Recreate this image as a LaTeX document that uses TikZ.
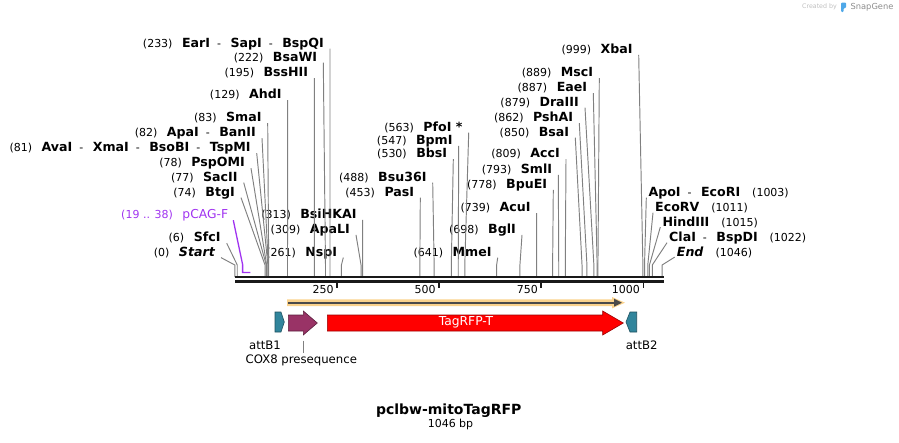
\documentclass[tikz,border=0pt]{standalone}
\usepackage{fontspec}
\setmainfont{DejaVu Sans}
\usetikzlibrary{arrows.meta, calc}
\definecolor{sitegray}{HTML}{808080}
\definecolor{primerviolet}{HTML}{A033F0}
\definecolor{attteal}{HTML}{31859C}
\definecolor{coxmaroon}{HTML}{993366}
\definecolor{orfband}{HTML}{FAD28C}
\definecolor{orfdark}{HTML}{4A4A4A}
\definecolor{snapblue}{HTML}{4FA8E8}

\newcommand{\enz}[1]{{\fontsize{12.6}{14}\selectfont\bfseries #1}}
\newcommand{\pos}[1]{{\fontsize{11}{13}\selectfont (#1)}}
\newcommand{\ensep}{\hspace{7pt}{\fontsize{11}{13}\selectfont -}\hspace{9.5pt}}
\newcommand{\cutL}[2]{\pgfmathsetmacro\sitex{234.8+0.4085*#2}%
  \coordinate (r#2) at (\sitex,277);%
  \draw[cutline] ([shift={(6,1.5)}]#1.base east) -- ([yshift=12pt]r#2) -- (r#2);}
\newcommand{\cutR}[2]{\pgfmathsetmacro\sitex{234.8+0.4085*#2}%
  \coordinate (r#2) at (\sitex,277);%
  \draw[cutline] ([shift={(-2,1)}]#1.base west) -- ([yshift=12pt]r#2) -- (r#2);}

\begin{document}
\begin{tikzpicture}[
    x=1pt, y=-1pt,
    lab/.style={inner sep=0pt, text=black},
    cutline/.style={draw=sitegray, line width=0.95pt},
    ticklabel/.style={inner sep=0pt, font=\fontsize{11}{13}\selectfont},
    featlabel/.style={inner sep=0pt, font=\fontsize{11.7}{14}\selectfont},
    feat/.style={line width=0.6pt}
  ]
  \useasboundingbox (0,0) rectangle (899,442);

  % watermark
  \node[inner sep=0pt, text=black!25, font=\fontsize{6.3}{8}\selectfont] (created) at (819.5,7) {Created by};
  \fill[snapblue, rounded corners=1pt] (841,2.5) -- (846,2.5) -- (846,8) -- (843.5,8) -- (843.5,12) -- (841,12) -- cycle;
  \node[inner sep=0pt, text=black!45, font=\fontsize{8.3}{10}\selectfont] (snapgene) at (872,7) {SnapGene};

  % sites left of the ruler
  \node[lab, anchor=base east] (n233) at (324,47.1) {\pos{233}\hspace{9.5pt}\enz{EarI}\ensep\enz{SapI}\ensep\enz{BspQI}};
  \node[lab, anchor=base east] (n222) at (317.3,61.1) {\pos{222}\hspace{9.5pt}\enz{BsaWI}};
  \node[lab, anchor=base east] (n195) at (308.3,76.7) {\pos{195}\hspace{9.5pt}\enz{BssHII}};
  \node[lab, anchor=base east] (n129) at (281.7,98.7) {\pos{129}\hspace{9.5pt}\enz{AhdI}};
  \node[lab, anchor=base east] (n83) at (261.7,121.7) {\pos{83}\hspace{9.5pt}\enz{SmaI}};
  \node[lab, anchor=base east] (n82) at (256,136.7) {\pos{82}\hspace{9.5pt}\enz{ApaI}\ensep\enz{BanII}};
  \node[lab, anchor=base east] (n81) at (250.7,151.7) {\pos{81}\hspace{9.5pt}\enz{AvaI}\ensep\enz{XmaI}\ensep\enz{BsoBI}\ensep\enz{TspMI}};
  \node[lab, anchor=base east] (n78) at (245,166.7) {\pos{78}\hspace{9.5pt}\enz{PspOMI}};
  \node[lab, anchor=base east] (n77) at (237.7,181.1) {\pos{77}\hspace{9.5pt}\enz{SacII}};
  \node[lab, anchor=base east] (n74) at (235,196.1) {\pos{74}\hspace{9.5pt}\enz{BtgI}};
  \node[lab, anchor=base east, text=primerviolet] (pcag) at (228.3,218.7) {\pos{19 .. 38}\hspace{9.5pt}{\fontsize{12.3}{14}\selectfont pCAG-F}};
  \node[lab, anchor=base east] (n6) at (220.7,241.7) {\pos{6}\hspace{9.5pt}\enz{SfcI}};
  \node[lab, anchor=base east] (n0) at (215,256.1) {\pos{0}\hspace{9.5pt}\enz{\itshape Start}};

  % sites in the middle
  \node[lab, anchor=base east] (n313) at (356.7,218.4) {\pos{313}\hspace{9.5pt}\enz{BsiHKAI}};
  \node[lab, anchor=base east] (n309) at (350,233.4) {\pos{309}\hspace{9.5pt}\enz{ApaLI}};
  \node[lab, anchor=base east] (n261) at (337.3,256.1) {\pos{261}\hspace{9.5pt}\enz{NspI}};
  \node[lab, anchor=base east] (n488) at (426.7,181.1) {\pos{488}\hspace{9.5pt}\enz{Bsu36I}};
  \node[lab, anchor=base east] (n453) at (414.3,196.1) {\pos{453}\hspace{9.5pt}\enz{PasI}};
  \node[lab, anchor=base east] (n563) at (462.7,131.1) {\pos{563}\hspace{9.5pt}\enz{PfoI *}};
  \node[lab, anchor=base east] (n547) at (452.7,144.4) {\pos{547}\hspace{9.5pt}\enz{BpmI}};
  \node[lab, anchor=base east] (n530) at (447.3,157.7) {\pos{530}\hspace{9.5pt}\enz{BbsI}};
  \node[lab, anchor=base east] (n641) at (491.7,256.1) {\pos{641}\hspace{9.5pt}\enz{MmeI}};
  \node[lab, anchor=base east] (n698) at (516,233.4) {\pos{698}\hspace{9.5pt}\enz{BglI}};
  \node[lab, anchor=base east] (n739) at (530.7,211.7) {\pos{739}\hspace{9.5pt}\enz{AcuI}};
  \node[lab, anchor=base east] (n778) at (547.3,188.4) {\pos{778}\hspace{9.5pt}\enz{BpuEI}};
  \node[lab, anchor=base east] (n793) at (552.3,173.4) {\pos{793}\hspace{9.5pt}\enz{SmlI}};
  \node[lab, anchor=base east] (n809) at (560,157.7) {\pos{809}\hspace{9.5pt}\enz{AccI}};
  \node[lab, anchor=base east] (n850) at (569.3,136.1) {\pos{850}\hspace{9.5pt}\enz{BsaI}};
  \node[lab, anchor=base east] (n862) at (573.3,121.7) {\pos{862}\hspace{9.5pt}\enz{PshAI}};
  \node[lab, anchor=base east] (n879) at (579,106.1) {\pos{879}\hspace{9.5pt}\enz{DraIII}};
  \node[lab, anchor=base east] (n887) at (587.3,91.7) {\pos{887}\hspace{9.5pt}\enz{EaeI}};
  \node[lab, anchor=base east] (n889) at (593.3,76.7) {\pos{889}\hspace{9.5pt}\enz{MscI}};
  \node[lab, anchor=base east] (n999) at (632.7,53.4) {\pos{999}\hspace{9.5pt}\enz{XbaI}};

  % sites right of the ruler
  \node[lab, anchor=base west] (n1003) at (648.3,196.7) {\enz{ApoI}\ensep\enz{EcoRI}\hspace{12pt}\pos{1003}};
  \node[lab, anchor=base west] (n1011) at (655,211.7) {\enz{EcoRV}\hspace{12pt}\pos{1011}};
  \node[lab, anchor=base west] (n1015) at (662.3,226.1) {\enz{HindIII}\hspace{12pt}\pos{1015}};
  \node[lab, anchor=base west] (n1022) at (669,241.7) {\enz{ClaI}\ensep\enz{BspDI}\hspace{12pt}\pos{1022}};
  \node[lab, anchor=base west] (n1046) at (676.7,256.1) {\enz{\itshape End}\hspace{12pt}\pos{1046}};

  % lines down to the ruler
  \cutL{n233}{233} \cutL{n222}{222} \cutL{n195}{195} \cutL{n129}{129}
  \cutL{n83}{83} \cutL{n82}{82} \cutL{n81}{81} \cutL{n78}{78}
  \cutL{n77}{77} \cutL{n74}{74} \cutL{n6}{6} \cutL{n0}{0}
  \cutL{n313}{313} \cutL{n309}{309} \cutL{n261}{261}
  \cutL{n488}{488} \cutL{n453}{453} \cutL{n563}{563} \cutL{n547}{547}
  \cutL{n530}{530} \cutL{n641}{641} \cutL{n698}{698} \cutL{n739}{739}
  \cutL{n778}{778} \cutL{n793}{793} \cutL{n809}{809} \cutL{n850}{850}
  \cutL{n862}{862} \cutL{n879}{879} \cutL{n887}{887} \cutL{n889}{889}
  \cutL{n999}{999}
  \cutR{n1003}{1003} \cutR{n1011}{1011} \cutR{n1015}{1015}
  \cutR{n1022}{1022} \cutR{n1046}{1046}

  % primer
  \coordinate (p19) at (242.6,272.5);
  \coordinate (p38) at (250.3,272.5);
  \draw[primerviolet, line width=1.3pt] ([shift={(5,1.5)}]pcag.base east) -- ([yshift=8pt]p19) -- (p19) -- (p38);

  % ruler
  \fill[black!90] (235,275.7) rectangle (664,278.2);
  \fill[black!90] (235,280) rectangle (664,282.7);
  \foreach \t in {250,500,750,1000} {
    \pgfmathsetmacro\tx{234.8+0.4085*\t}
    \draw[line width=1.6pt, black!90] (\tx,282.5) -- (\tx,288.3);
    \node[ticklabel, anchor=east] (t\t) at (\tx-3.2,289.3) {\t};
  }

  % open reading frame
  \fill[orfband] (287,299.3) -- (612,299.3) -- (612,297) -- (625,302.7) -- (612,308.4) -- (612,306) -- (287,306) -- cycle;
  \draw[orfdark, line width=1.6pt, -{Triangle[length=8pt,width=7.5pt]}] (288,302.7) -- (622,302.7);

  % features
  \filldraw[feat, fill=attteal, draw=attteal!60!black] (275,312) -- (281,312) -- (284.3,322) -- (281,332) -- (275,332) -- cycle;
  \filldraw[feat, fill=coxmaroon, draw=coxmaroon!60!black] (288.3,315) -- (303.3,315) -- (303.3,311) -- (317.3,323) -- (303.3,335) -- (303.3,331) -- (288.3,331) -- cycle;
  \filldraw[feat, fill=red, draw=red!60!black] (327.3,315) -- (602.7,315) -- (602.7,311) -- (623.3,323) -- (602.7,335) -- (602.7,331) -- (327.3,331) -- cycle;
  \filldraw[feat, fill=attteal, draw=attteal!60!black] (636.7,312) -- (630,312) -- (626,322) -- (630,332) -- (636.7,332) -- cycle;

  \node[inner sep=0pt, text=white, font=\fontsize{12.3}{14}\selectfont] (tagrfp) at (466,322.5) {TagRFP-T};
  \node[featlabel] (attb1) at (265,345) {attB1};
  \node[featlabel] (cox) at (301.3,360.5) {COX8 presequence};
  \node[featlabel] (attb2) at (641.7,345) {attB2};
  \coordinate (coxbase) at (303.3,340.5);
  \draw[sitegray, line width=0.95pt] (coxbase) -- ([yshift=1.5pt]coxbase |- cox.north);

  % title
  \node[inner sep=0pt, font=\fontsize{14}{16}\selectfont\bfseries] (title) at (448.7,410.7) {pclbw-mitoTagRFP};
  \node[inner sep=0pt, font=\fontsize{11}{13}\selectfont] (length) at (450.5,424) {1046 bp};
\end{tikzpicture}
\end{document}
